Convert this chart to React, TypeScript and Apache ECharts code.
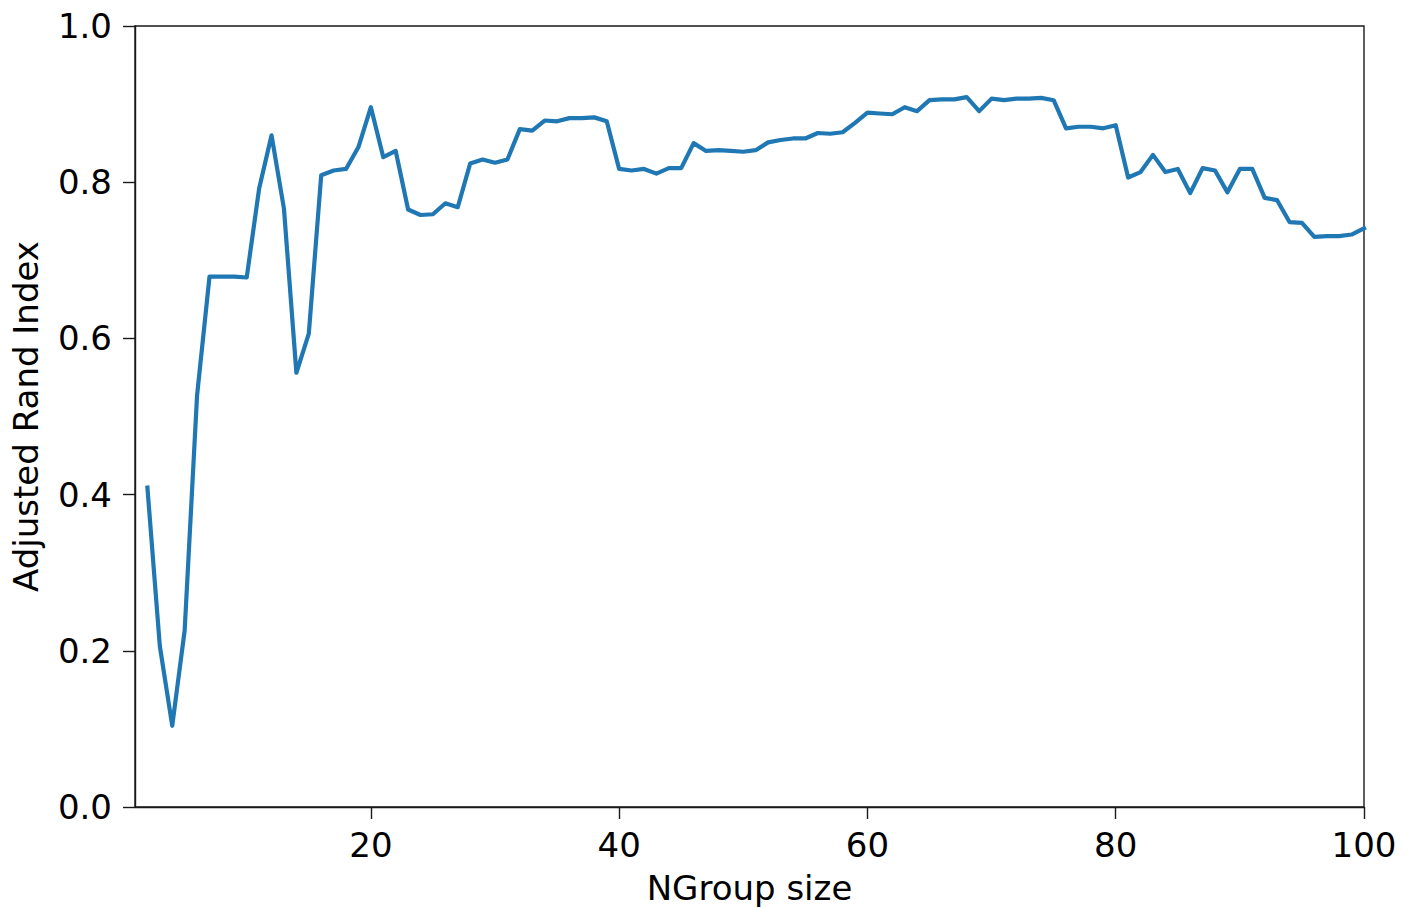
import React, { useEffect, useRef } from "react";
import * as echarts from "echarts";

const groupSizes: number[] = [];
for (let n = 2; n <= 100; n++) groupSizes.push(n);

const ariValues: number[] = [
  0.409, 0.206, 0.104, 0.226, 0.527, 0.679, 0.679, 0.679, 0.678, 0.792,
  0.860, 0.766, 0.556, 0.606, 0.809, 0.815, 0.817, 0.845, 0.896, 0.832,
  0.840, 0.765, 0.758, 0.759, 0.773, 0.768, 0.824, 0.829, 0.825, 0.829,
  0.868, 0.866, 0.879, 0.878, 0.882, 0.882, 0.883, 0.878, 0.817, 0.815,
  0.817, 0.811, 0.818, 0.818, 0.850, 0.840, 0.841, 0.840, 0.839, 0.841,
  0.851, 0.854, 0.856, 0.856, 0.863, 0.862, 0.864, 0.876, 0.889, 0.888,
  0.887, 0.896, 0.891, 0.905, 0.906, 0.906, 0.909, 0.891, 0.907, 0.905,
  0.907, 0.907, 0.908, 0.905, 0.869, 0.871, 0.871, 0.869, 0.873, 0.806,
  0.813, 0.835, 0.813, 0.817, 0.786, 0.818, 0.815, 0.787, 0.817, 0.817,
  0.780, 0.777, 0.749, 0.748, 0.730, 0.731, 0.731, 0.733, 0.741,
];

const xTicks = [20, 40, 60, 80, 100];

const FONT = "DejaVu Sans";
const FS = 34;
const AXIS_COLOR = "#1a1a1a";

export default function App() {
  const ref = useRef<HTMLDivElement>(null);
  useEffect(() => {
    if (!ref.current) return;
    const chart = echarts.init(ref.current, undefined, { renderer: "svg" });
    chart.setOption({
      animation: false,
      backgroundColor: "#ffffff",
      textStyle: { fontFamily: FONT },
      grid: {
        left: 135,
        right: 49,
        top: 26,
        bottom: 101,
        containLabel: false,
        outerBoundsMode: "none",
        show: true,
        borderColor: AXIS_COLOR,
        borderWidth: 1.4,
        backgroundColor: "transparent",
      },
      xAxis: {
        type: "value",
        min: 1,
        max: 100,
        name: "NGroup size",
        nameLocation: "middle",
        nameGap: 64,
        nameTextStyle: { fontFamily: FONT, fontSize: FS, color: "#000" },
        axisLine: { show: true, lineStyle: { color: AXIS_COLOR, width: 1.4 } },
        axisTick: {
          show: true,
          length: 12,
          inside: false,
          customValues: xTicks,
          lineStyle: { color: AXIS_COLOR, width: 1.4 },
        },
        axisLabel: {
          customValues: xTicks,
          fontFamily: FONT,
          fontSize: FS,
          color: "#000",
          margin: 21,
        },
        splitLine: { show: false },
      },
      yAxis: {
        type: "value",
        min: 0,
        max: 1,
        interval: 0.2,
        name: "Adjusted Rand Index",
        nameLocation: "middle",
        nameGap: 92,
        nameRotate: 90,
        nameTextStyle: { fontFamily: FONT, fontSize: FS, color: "#000" },
        axisLine: { show: true, lineStyle: { color: AXIS_COLOR, width: 1.4 } },
        axisTick: {
          show: true,
          length: 12,
          inside: false,
          lineStyle: { color: AXIS_COLOR, width: 1.4 },
        },
        axisLabel: {
          fontFamily: FONT,
          fontSize: FS,
          color: "#000",
          margin: 23,
          formatter: (v: number) => v.toFixed(1),
        },
        splitLine: { show: false },
      },
      series: [
        {
          type: "line",
          data: groupSizes.map((g, i) => [g, ariValues[i]]),
          showSymbol: false,
          symbol: "none",
          lineStyle: { color: "#1f77b4", width: 4.2, join: "round", cap: "square" },
          itemStyle: { color: "#1f77b4" },
        },
      ],
    });
    return () => chart.dispose();
  }, []);
  return (
    <div
      ref={ref}
      style={{ position: "fixed", left: 0, top: 0, width: 1413, height: 908 }}
    />
  );
}
